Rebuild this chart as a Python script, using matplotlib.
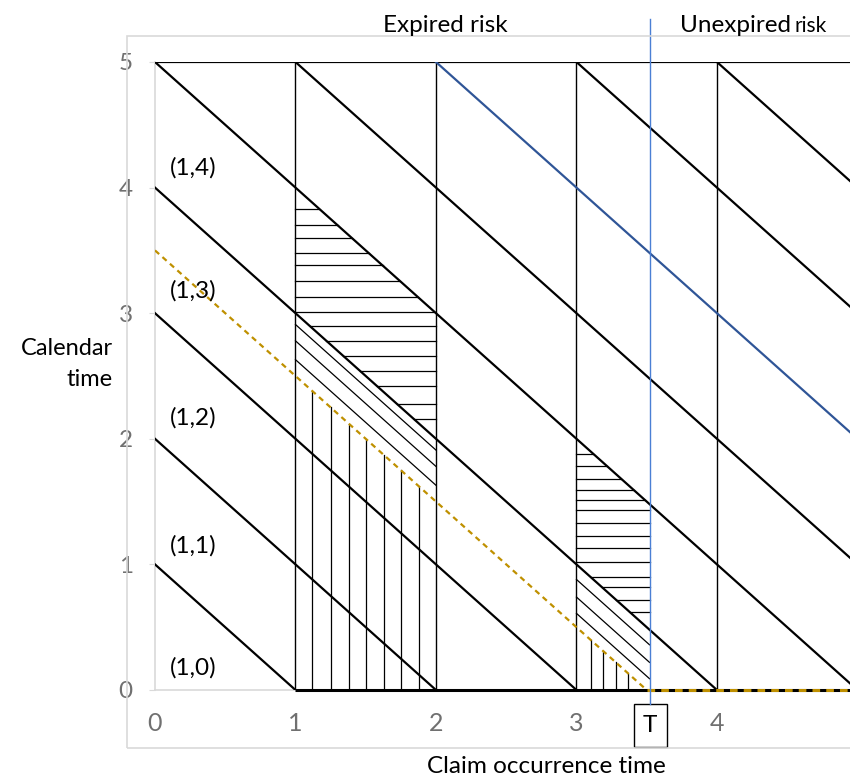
import matplotlib
matplotlib.use("Agg")
import matplotlib.pyplot as plt
from matplotlib.patches import Rectangle

plt.rcParams["font.family"] = ["Lato", "DejaVu Sans"]

W, H = 850, 781

# axis extents / key positions (data units)
x_max = 4.947
T = 3.52
dash_c = 3.5  # dashed line y = 3.5 - x

# main diagonals y = c - x
diag_intercepts = [1, 2, 3, 4, 5, 6, 8, 9]
blue_intercept = 7
verticals = [1, 2, 3, 4]

region_labels = ["(1,0)", "(1,1)", "(1,2)", "(1,3)", "(1,4)"]
label_y = [0.18, 1.15, 2.17, 3.18, 4.16]

x_ticks = [0, 1, 2, 3, 4]
y_ticks = [0, 1, 2, 3, 4, 5]

# hatching in block 1 (x from 1 to 2)
h_levels_1 = [3.83, 3.70, 3.60, 3.48, 3.38, 3.26, 3.13, 3.01, 2.90, 2.78,
              2.66, 2.54, 2.42, 2.28, 2.16]
d_intercepts_1 = [3.91, 3.78, 3.63]
v_pos_1 = [1.12, 1.25, 1.38, 1.5, 1.63, 1.75, 1.88]

# hatching in block 2 (x from 3 to T)
h_levels_2 = [1.88, 1.78, 1.68, 1.59, 1.51, 1.43, 1.33, 1.23, 1.13, 1.02,
              0.90, 0.82, 0.72, 0.62]
d_intercepts_2 = [3.88, 3.74, 3.61]
v_pos_2 = [3.1, 3.19, 3.28, 3.37]

GRID = "#D9D9D9"
TICK = "#707070"
GOLD = "#BF9000"
FS = 17.5

fig = plt.figure(figsize=(W / 100, H / 100), dpi=100)
ax = fig.add_axes([155 / W, (H - 690) / H, (W - 155) / W, 628 / H])
ax.set_xlim(0, x_max)
ax.set_ylim(0, 5)

# outer chart-area frame
fig.patches.append(Rectangle((127 / W, (H - 748) / H), 1.0, (748 - 36) / H,
                             transform=fig.transFigure, fill=False,
                             ec=GRID, lw=1.2))

for s in ["top", "right"]:
    ax.spines[s].set_visible(False)
for s in ["left", "bottom"]:
    ax.spines[s].set_color(GRID)
    ax.spines[s].set_linewidth(1.2)
    ax.spines[s].set_zorder(0.5)

ax.set_xticks(x_ticks)
ax.set_yticks(y_ticks)
ax.tick_params(axis="x", length=0, pad=16, labelsize=18, labelcolor=TICK)
ax.tick_params(axis="y", length=4, color=GRID, pad=12, labelsize=17.5,
               labelcolor=TICK)


def diag(c, x0=0.0, x1=x_max):
    a = max(x0, c - 5)
    b = min(x1, c)
    return [a, b], [c - a, c - b]


# top and bottom edges
ax.plot([0, x_max], [5, 5], color="black", lw=1.6)
ax.plot([1, x_max], [0, 0], color="black", lw=2.2, solid_capstyle="butt",
        clip_on=False)

for v in verticals:
    ax.plot([v, v], [0, 5], color="black", lw=1.0)

for c in diag_intercepts:
    xs, ys = diag(c)
    ax.plot(xs, ys, color="black", lw=1.6)
xs, ys = diag(blue_intercept)
ax.plot(xs, ys, color="#2F5597", lw=1.6)

# hatching
def hatch(h_levels, d_ints, v_pos, x0, x1):
    for y in h_levels:
        a = max(x0, 4 - y)
        b = min(x1, 5 - y)
        ax.plot([a, b], [y, y], color="black", lw=0.9)
    for c in d_ints:
        ax.plot([x0, x1], [c - x0, c - x1], color="black", lw=0.9)
    for x in v_pos:
        ax.plot([x, x], [0, dash_c - x], color="black", lw=0.9)


hatch(h_levels_1, d_intercepts_1, v_pos_1, 1, 2)
hatch(h_levels_2, d_intercepts_2, v_pos_2, 3, T)

# dashed boundary
ax.plot([0, dash_c], [dash_c, 0], color=GOLD, lw=1.6, ls=(0, (2.5, 2)))
ax.plot([dash_c, x_max], [0, 0], color=GOLD, lw=2.2, ls=(0, (2.5, 2)),
        clip_on=False)

# T line and box
ax.plot([T, T], [-0.111, 5.34], color="#4A7FD4", lw=1.0, clip_on=False)
ax.add_patch(Rectangle((3.409, -0.454), 0.235, 0.343, fill=False,
                       ec="black", lw=1.0, clip_on=False))
ax.text(T + 0.005, -0.283, "T", ha="center", va="center", fontsize=FS,
        color="black", clip_on=False)

for lab, y in zip(region_labels, label_y):
    ax.text(0.107, y, lab, ha="left", va="center", fontsize=FS, color="black")

fig.text(445 / W, 1 - 31.7 / H, "Expired risk", ha="center", va="baseline",
         fontsize=FS)
fig.text(680 / W, 1 - 31.7 / H, "Unexpired", ha="left", va="baseline",
         fontsize=FS)
fig.text(795 / W, 1 - 31.7 / H, "risk", ha="left", va="baseline",
         fontsize=15)
fig.text(113 / W, 1 - 355 / H, "Calendar", ha="right", va="baseline",
         fontsize=17)
fig.text(113 / W, 1 - 386 / H, "time", ha="right", va="baseline",
         fontsize=17)
fig.text(546 / W, 1 - 773 / H, "Claim occurrence time", ha="center",
         va="baseline", fontsize=FS)

fig.savefig("out.png", dpi=100)
